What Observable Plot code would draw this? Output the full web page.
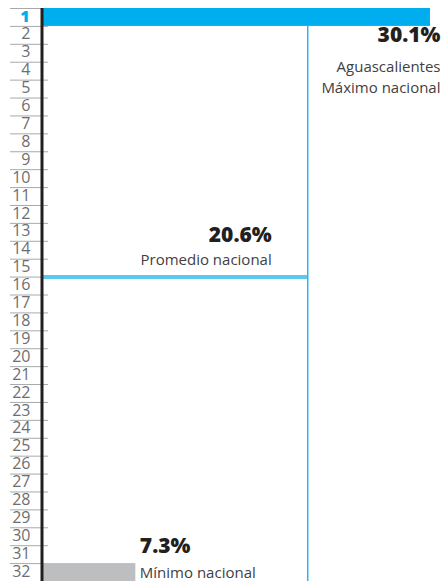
<!DOCTYPE html>
<html>
<head>
<meta charset="utf-8">
<script src="https://cdn.jsdelivr.net/npm/d3@7"></script>
<script src="https://cdn.jsdelivr.net/npm/@observablehq/plot@0.6"></script>
<style>
  html, body { margin: 0; padding: 0; background: #fff; }
  svg { display: block; }
</style>
</head>
<body>
<div id="chart"></div>
<script>
// Ranks of the 32 states (1 = highest)
const ranks = d3.range(1, 33);
// Highlighted bars: national maximum and minimum
const barRanks = [1, 32];
const barValues = [30.1, 7.3];
const barColors = ["#00aeef", "#bcbec0"];
// National average and where it falls in the ranking (between 15 and 16)
const avgValue = 20.6;
const avgRank = 15.5;
// Annotation texts
const maxState = "Aguascalientes";
const maxLabel = "Máximo nacional";
const avgLabel = "Promedio nacional";
const minLabel = "Mínimo nacional";

const bars = barRanks.map((r, i) => ({rank: r, value: barValues[i], color: barColors[i]}));
const maxValue = d3.max(barValues);
const minValue = d3.min(barValues);
const lastRank = d3.max(ranks);
const boundaries = ranks.map(r => r - 0.5);
const pct = v => v.toFixed(1) + "%";

const font = "'Open Sans', 'Noto Sans', sans-serif";

const chart = Plot.plot({
  width: 446,
  height: 581,
  marginTop: 8,
  marginBottom: 0,
  marginLeft: 41,
  marginRight: 16,
  style: {fontFamily: font, background: "#fff"},
  x: {domain: [0, maxValue], axis: null},
  y: {domain: [0.5, lastRank + 0.5], reverse: true, axis: null},
  marks: [
    // row separators (extend into the left margin)
    Plot.ruleY(boundaries, {y: d => d, x1: 0, x2: 0, insetLeft: -31, insetRight: -7, stroke: "#a7a9ac", strokeWidth: 1}),
    // vertical average line
    Plot.ruleX([avgValue], {x: d => d, y1: 1.5, y2: lastRank + 0.5, stroke: "#29b6ea", strokeWidth: 1.5}),
    // bars
    Plot.rect(bars, {x1: 0, x2: "value", y1: d => d.rank - 0.5, y2: d => d.rank + 0.5, fill: "color"}),
    // horizontal average line
    Plot.ruleY([avgRank], {y: d => d, x1: 0, x2: avgValue, stroke: "#5bc8f0", strokeWidth: 4}),
    // axis line
    Plot.ruleX([0], {x: d => d, y1: 0.5, y2: lastRank + 0.5, stroke: "#231f20", strokeWidth: 3, dx: 0.5}),
    // rank labels
    Plot.text(ranks.filter(r => r !== 1), {y: d => d, text: d => String(d), frameAnchor: "left", textAnchor: "end", dx: -11, dy: -1, fill: "#6d6e71", fontSize: 16}),
    Plot.text([1], {y: d => d, text: d => String(d), frameAnchor: "left", textAnchor: "end", dx: -12, dy: -1, fill: "#00aeef", fontSize: 16, fontWeight: 800}),
    // max annotation
    Plot.text([maxValue], {x: d => d, y: 2, text: pct, textAnchor: "end", lineAnchor: "bottom", dx: 10, dy: 7, fill: "#231f20", fontSize: 21, fontWeight: 800}),
    Plot.text([`${maxState}\n${maxLabel}`], {x: maxValue, y: 5, text: d => d, textAnchor: "end", lineAnchor: "bottom", lineHeight: 1.4, dx: 10, dy: 3.5, fill: "#414042", fontSize: 15}),
    // average annotation
    Plot.text([avgValue], {x: d => d, y: avgRank, text: pct, textAnchor: "end", lineAnchor: "bottom", dx: -36, dy: -35.5, fill: "#231f20", fontSize: 21, fontWeight: 800}),
    Plot.text([avgLabel], {x: avgValue, y: avgRank, text: d => d, textAnchor: "end", lineAnchor: "bottom", dx: -36, dy: -12.5, fill: "#414042", fontSize: 15}),
    // min annotation
    Plot.text([minValue], {x: d => d, y: lastRank, text: pct, textAnchor: "start", lineAnchor: "bottom", dx: 4, dy: -20, fill: "#231f20", fontSize: 21, fontWeight: 800}),
    Plot.text([minLabel], {x: minValue, y: lastRank, text: d => d, textAnchor: "start", lineAnchor: "bottom", dx: 4, dy: 5, fill: "#414042", fontSize: 15})
  ]
});
document.getElementById("chart").appendChild(chart);
</script>
</body>
</html>
